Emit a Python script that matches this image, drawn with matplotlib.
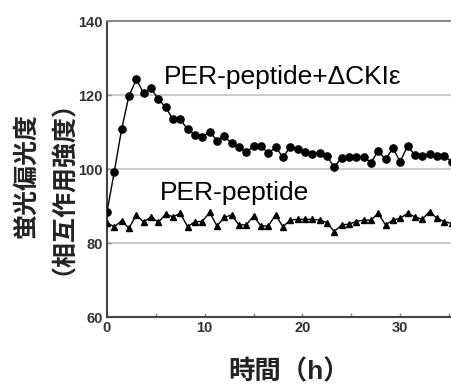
import numpy as np
import matplotlib.pyplot as plt

# time points (h), every 0.75 h
t_step = 0.75
n_pts = 48

per_ckie = [88.4, 99.3, 110.8, 119.8, 124.2, 120.5, 121.8, 118.9, 116.7, 113.4,
            113.4, 110.7, 109.2, 108.7, 110.1, 107.7, 108.9, 106.9, 105.9, 104.5,
            106.2, 106.3, 104.2, 105.9, 103.2, 105.9, 105.4, 104.7, 104.1, 104.2,
            103.5, 100.5, 103.1, 103.3, 103.3, 103.3, 101.7, 104.9, 102.6, 105.6,
            102.0, 106.2, 103.8, 103.5, 104.1, 103.5, 103.5, 102.0]

per_only = [85.5, 84.4, 86.0, 84.0, 87.6, 85.6, 87.1, 85.6, 87.8, 87.1,
            88.0, 84.4, 85.8, 85.8, 88.3, 84.6, 86.9, 87.6, 84.9, 84.9,
            87.3, 84.6, 84.6, 87.6, 84.4, 86.2, 86.4, 86.4, 86.4, 86.2,
            85.5, 83.1, 84.9, 85.1, 85.8, 86.2, 86.2, 88.0, 84.9, 86.2,
            86.7, 88.0, 87.1, 86.4, 88.5, 86.7, 85.8, 85.3]

t = np.arange(n_pts) * t_step

xticks = [0, 10, 20, 30]
yticks = [60, 80, 100, 120, 140]
grid_y = [80, 100, 120]

fam = ['Liberation Sans', 'Noto Sans CJK JP']
plt.rcParams['font.family'] = fam

fig = plt.figure(figsize=(4.52, 3.85), dpi=100)
ax = fig.add_axes([0.2367, 0.1766, 0.7633, 0.7688])

for g in grid_y:
    ax.axhline(g, color='#cccccc', lw=1.5, zorder=0)

ax.plot(t, per_ckie, '-o', color='black', lw=1.0, ms=5.2, zorder=3)
ax.plot(t, per_only, '-^', color='black', lw=1.0, ms=5.0, zorder=3)

ax.set_xlim(0, 35.3)
ax.set_ylim(60, 140)
ax.set_xticks(np.arange(0, 36, 5), minor=False)
ax.set_xticklabels([str(v) if v in xticks else '' for v in np.arange(0, 36, 5)])
ax.set_yticks(yticks)

ax.spines['right'].set_visible(False)
for s in ['left', 'bottom', 'top']:
    ax.spines[s].set_color('#444444')
    ax.spines[s].set_linewidth(1.5)
ax.spines['top'].set_color('#888888')

ax.tick_params(direction='in', length=3, width=1, color='#888888',
               labelsize=10.5, labelcolor='#333333', pad=3)
for lab in ax.get_xticklabels() + ax.get_yticklabels():
    lab.set_fontweight('bold')

ax.text(5.8, 124.8, 'PER-peptide+ΔCKIε', fontsize=19, color='black',
        ha='left', va='center')
ax.text(5.4, 93.5, 'PER-peptide', fontsize=19, color='black',
        ha='left', va='center')

fig.text(0.085, 0.545, '蛍光偏光度\n（相互作用強度）', rotation=90, fontsize=18,
         fontweight='bold', ha='center', va='center', linespacing=1.0,
         color='#222222')
fig.text(0.64, 0.034, '時間（h）', fontsize=19, fontweight='bold',
         ha='center', va='center', color='#222222')

fig.savefig('out.png', dpi=100)
